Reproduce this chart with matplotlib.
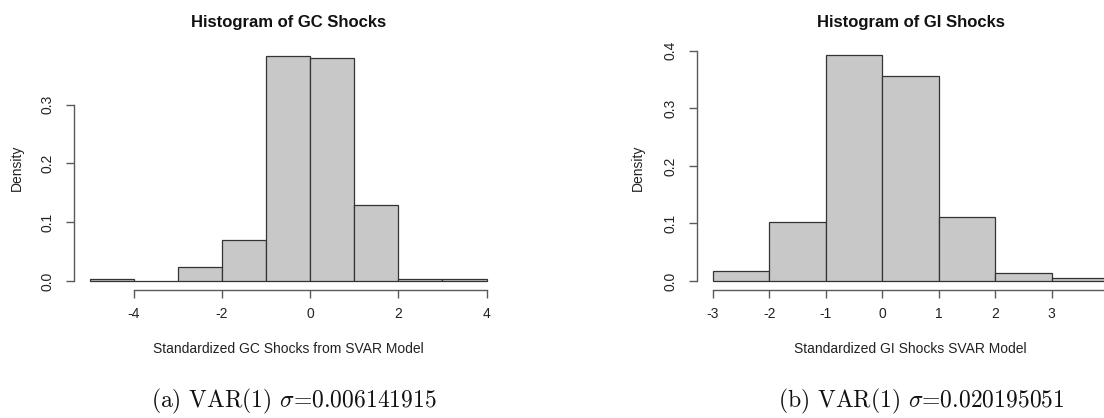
import numpy as np
import matplotlib
matplotlib.use("Agg")
import matplotlib.pyplot as plt

# ---- data ----
gc_edges = [-5, -4, -3, -2, -1, 0, 1, 2, 3, 4]
gc_density = [0.004, 0.0, 0.024, 0.070, 0.383, 0.379, 0.130, 0.004, 0.004]
gc_xticks = [-4, -2, 0, 2, 4]
gc_xticklabels = ["-4", "-2", "0", "2", "4"]
gc_yticks = [0.0, 0.1, 0.2, 0.3]

gi_edges = [-3, -2, -1, 0, 1, 2, 3, 4]
gi_density = [0.018, 0.102, 0.3925, 0.356, 0.111, 0.014, 0.0047]
gi_xticks = [-3, -2, -1, 0, 1, 2, 3, 4]
# the "4" label falls outside the cropped reference image
gi_xticklabels = ["-3", "-2", "-1", "0", "1", "2", "3", ""]
gi_yticks = [0.0, 0.1, 0.2, 0.3, 0.4]

titles = ["Histogram of GC Shocks", "Histogram of GI Shocks"]
xlabels = ["Standardized GC Shocks from SVAR Model", "Standardized GI Shocks SVAR Model"]
captions = [r"(a) VAR(1) $\sigma$=0.006141915", r"(b) VAR(1) $\sigma$=0.020195051"]

plt.rcParams['font.family'] = ['Liberation Sans', 'DejaVu Sans']
plt.rcParams['mathtext.fontset'] = 'cm'

W, H = 1104, 418
fig = plt.figure(figsize=(W / 100, H / 100), dpi=100)

# axes boxes in pixels: (left, top, right, bottom)
boxes = [(74, 46.7, 502.4, 290), (697, 46.1, 1124, 290)]
ylab_x = [17, 638]
cap_x = [294, 921]

panels = [(gc_edges, gc_density, gc_xticks, gc_xticklabels, gc_yticks),
          (gi_edges, gi_density, gi_xticks, gi_xticklabels, gi_yticks)]

axis_col = '#5a5a5a'
for i, (edges, dens, xt, xtl, yt) in enumerate(panels):
    l, t, r, b = boxes[i]
    ax = fig.add_axes([l / W, (H - b) / H, (r - l) / W, (b - t) / H])
    edges = np.asarray(edges, float)
    dens = np.asarray(dens, float)
    ax.bar(edges[:-1], dens, width=np.diff(edges), align='edge',
           color='#c8c8c8', edgecolor='#333333', linewidth=0.9)
    span = edges[-1] - edges[0]
    ax.set_xlim(edges[0] - 0.04 * span, edges[-1] + 0.04 * span)
    ymax = dens.max()
    ax.set_ylim(-0.04 * ymax, 1.04 * ymax)
    for s in ['top', 'right']:
        ax.spines[s].set_visible(False)
    for s in ['left', 'bottom']:
        ax.spines[s].set_color(axis_col)
        ax.spines[s].set_linewidth(1.0)
    ax.spines['left'].set_bounds(yt[0], yt[-1])
    ax.spines['bottom'].set_bounds(xt[0], xt[-1])
    ax.set_xticks(xt)
    ax.set_xticklabels(xtl)
    ax.set_yticks(yt)
    ax.set_yticklabels([f"{v:.1f}" for v in yt], rotation=90, va='center')
    ax.tick_params(direction='out', length=6, width=1.0, color=axis_col,
                   labelsize=10, labelcolor='#222222')
    ax.tick_params(axis='x', pad=6)
    ax.tick_params(axis='y', pad=8)
    ax.patch.set_alpha(0)

    cx = (l + r) / 2
    fig.text(cx / W, 1 - 22.7 / H, titles[i], ha='center', va='center',
             fontsize=12, fontweight='bold', color='#111111')
    fig.text(cx / W, 1 - 349.3 / H, xlabels[i], ha='center', va='center',
             fontsize=10, color='#222222')
    fig.text(ylab_x[i] / W, 1 - 168 / H, "Density", ha='center', va='center',
             rotation=90, fontsize=10, color='#222222')
    fig.text(cap_x[i] / W, 1 - 401.7 / H, captions[i], ha='center', va='center',
             fontsize=17, family='cmr10', color='#111111')

fig.savefig("out.png", dpi=100)
